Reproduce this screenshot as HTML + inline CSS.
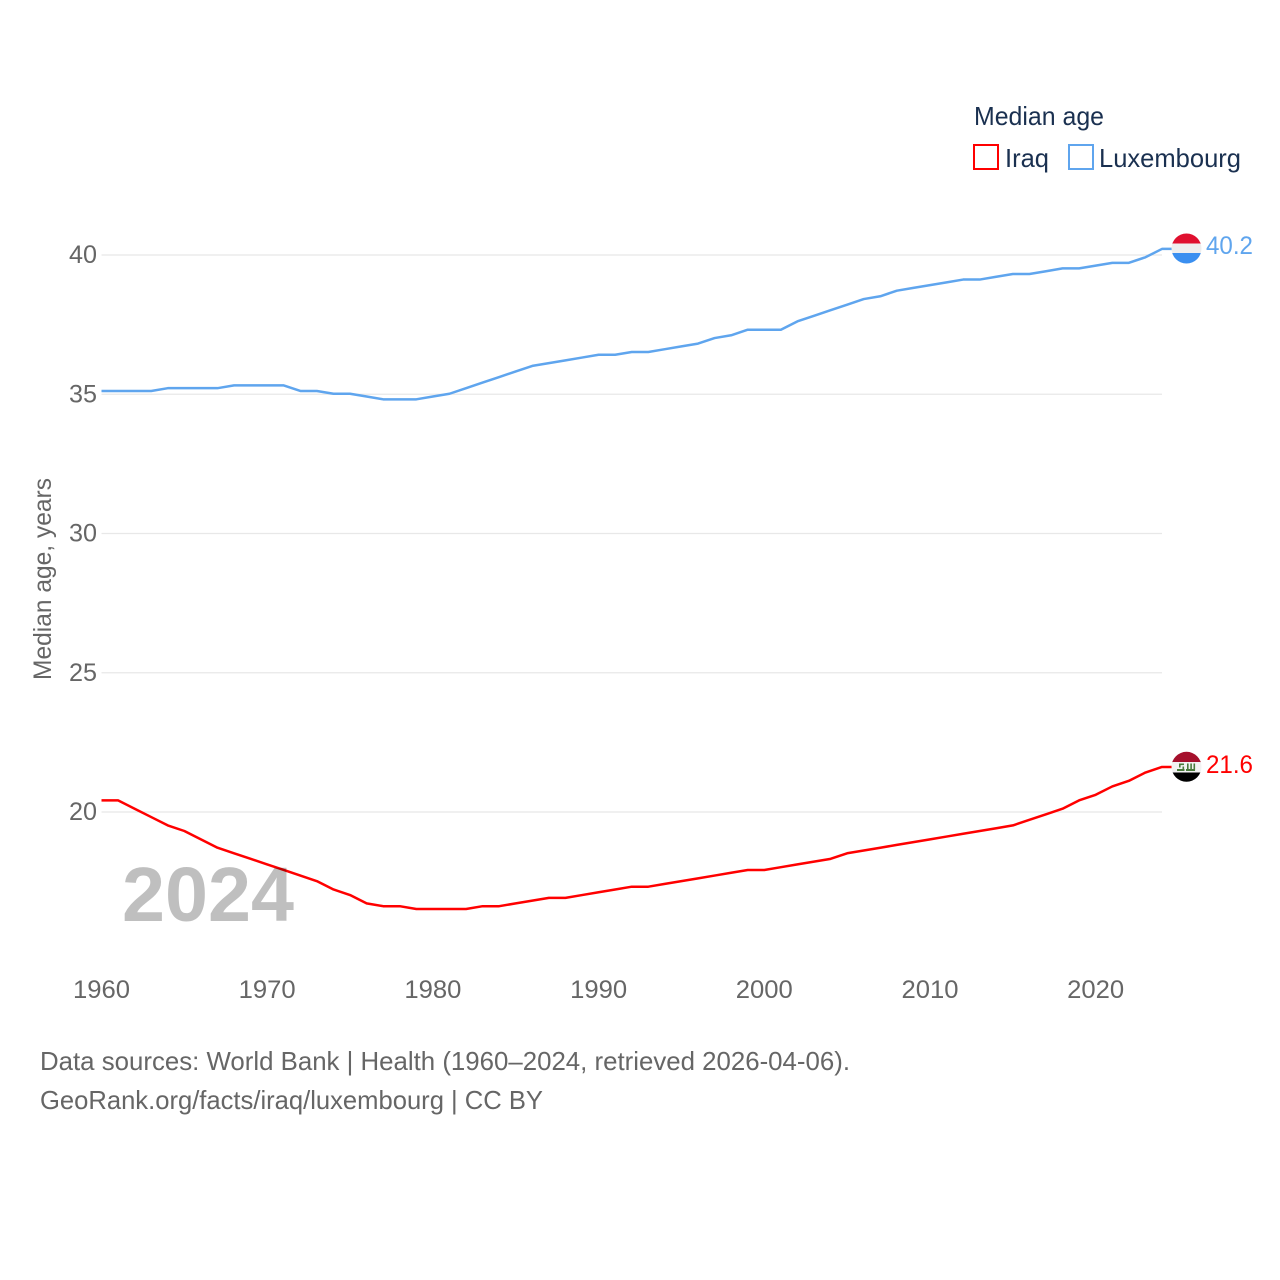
<!DOCTYPE html>
<html lang="en">
<head>
<meta charset="utf-8">
<title>Median age: Iraq and Luxembourg</title>
<style>
html,body{margin:0;padding:0;background:#fff;width:1280px;height:1280px;overflow:hidden}
svg{display:block;font-family:"Liberation Sans",sans-serif}
</style>
</head>
<body>
<svg id="chart" xmlns="http://www.w3.org/2000/svg" width="1280" height="1280" viewBox="0 0 1280 1280">
  <defs>
    <clipPath id="clip-flag-lu"><circle cx="1186.5" cy="248.5" r="15"/></clipPath>
    <clipPath id="clip-flag-iq"><circle cx="1186.5" cy="766.8" r="15"/></clipPath>
  </defs>
  <rect width="1280" height="1280" fill="#fff"/>
  <g id="grid"></g>
  <g id="yticks"></g>
  <g id="xticks"></g>
  <g id="lines"></g>

  <text x="122" y="921" font-size="77" font-weight="bold" fill="#000" fill-opacity="0.25" textLength="172" lengthAdjust="spacingAndGlyphs">2024</text>

  <text transform="translate(51,680) rotate(-90)" font-size="25" fill="#666" textLength="202" lengthAdjust="spacingAndGlyphs">Median age, years</text>

  <g>
    <text x="974" y="125" font-size="26" fill="#1a3050" textLength="130" lengthAdjust="spacingAndGlyphs">Median age</text>
    <g>
      <rect x="974" y="145" width="24" height="24" fill="none" stroke="#ff0000" stroke-width="2"/>
      <text x="1005" y="167" font-size="26" fill="#1a3050" textLength="44" lengthAdjust="spacingAndGlyphs">Iraq</text>
    </g>
    <g>
      <rect x="1069" y="145" width="24" height="24" fill="none" stroke="#5fa5ee" stroke-width="2"/>
      <text x="1099" y="167" font-size="26" fill="#1a3050" textLength="142" lengthAdjust="spacingAndGlyphs">Luxembourg</text>
    </g>
  </g>

  <g clip-path="url(#clip-flag-lu)">
    <rect x="1171" y="233" width="31" height="11" fill="#e0102f"/>
    <rect x="1171" y="243.5" width="31" height="10" fill="#eeeeee"/>
    <rect x="1171" y="253" width="31" height="11" fill="#3a8ff0"/>
  </g>
  <text x="1206" y="254" font-size="25" fill="#5fa5ee" textLength="47" lengthAdjust="spacingAndGlyphs">40.2</text>

  <g clip-path="url(#clip-flag-iq)">
    <rect x="1171" y="751" width="31" height="11.5" fill="#a5102c"/>
    <rect x="1171" y="762" width="31" height="11" fill="#f2f2f2"/>
    <rect x="1171" y="772.5" width="31" height="10.5" fill="#000"/>
    <g fill="#4a7a3c">
      <rect x="1177" y="769" width="7.5" height="2"/>
      <rect x="1179" y="763.5" width="5" height="1.6"/>
      <rect x="1179" y="763.5" width="1.6" height="4"/>
      <rect x="1182.5" y="766.5" width="1.6" height="4"/>
      <rect x="1186" y="769" width="9" height="2"/>
      <rect x="1187" y="763.5" width="1.6" height="7"/>
      <rect x="1190.3" y="763.5" width="1.6" height="7"/>
      <rect x="1193.5" y="763.5" width="1.6" height="7"/>
    </g>
  </g>
  <text x="1206" y="773" font-size="25" fill="#ff0000" textLength="47" lengthAdjust="spacingAndGlyphs">21.6</text>

  <g>
    <text x="40" y="1070" font-size="26" fill="#666" textLength="810" lengthAdjust="spacingAndGlyphs">Data sources: World Bank | Health (1960–2024, retrieved 2026-04-06).</text>
    <text x="40" y="1109" font-size="26" fill="#666" textLength="503" lengthAdjust="spacingAndGlyphs">GeoRank.org/facts/iraq/luxembourg | CC BY</text>
  </g>
</svg>
<script>
var years = [1960,1961,1962,1963,1964,1965,1966,1967,1968,1969,1970,1971,1972,1973,1974,1975,1976,1977,1978,1979,1980,1981,1982,1983,1984,1985,1986,1987,1988,1989,1990,1991,1992,1993,1994,1995,1996,1997,1998,1999,2000,2001,2002,2003,2004,2005,2006,2007,2008,2009,2010,2011,2012,2013,2014,2015,2016,2017,2018,2019,2020,2021,2022,2023,2024];
var iraqValues = [20.4,20.4,20.1,19.8,19.5,19.3,19.0,18.7,18.5,18.3,18.1,17.9,17.7,17.5,17.2,17.0,16.7,16.6,16.6,16.5,16.5,16.5,16.5,16.6,16.6,16.7,16.8,16.9,16.9,17.0,17.1,17.2,17.3,17.3,17.4,17.5,17.6,17.7,17.8,17.9,17.9,18.0,18.1,18.2,18.3,18.5,18.6,18.7,18.8,18.9,19.0,19.1,19.2,19.3,19.4,19.5,19.7,19.9,20.1,20.4,20.6,20.9,21.1,21.4,21.6];
var luxembourgValues = [35.1,35.1,35.1,35.1,35.2,35.2,35.2,35.2,35.3,35.3,35.3,35.3,35.1,35.1,35.0,35.0,34.9,34.8,34.8,34.8,34.9,35.0,35.2,35.4,35.6,35.8,36.0,36.1,36.2,36.3,36.4,36.4,36.5,36.5,36.6,36.7,36.8,37.0,37.1,37.3,37.3,37.3,37.6,37.8,38.0,38.2,38.4,38.5,38.7,38.8,38.9,39.0,39.1,39.1,39.2,39.3,39.3,39.4,39.5,39.5,39.6,39.7,39.7,39.9,40.2];
var yTickValues = [20,25,30,35,40];
var xTickValues = [1960,1970,1980,1990,2000,2010,2020];

var SVG_NS = 'http://www.w3.org/2000/svg';
function xScale(year){ return 101.5 + (year - 1960) * 16.57; }
function yScale(v){ return 812 - (v - 20) * 27.85; }
function make(tag, parent){
  var el = document.createElementNS(SVG_NS, tag);
  document.getElementById(parent).appendChild(el);
  return el;
}

yTickValues.forEach(function(v){
  var y = yScale(v);
  var line = make('line', 'grid');
  
  
  line.setAttribute('x1', 101.5);
  line.setAttribute('x2', 1162);
  line.setAttribute('y1', y);
  line.setAttribute('y2', y);
  line.setAttribute('stroke', '#e8e8e8');
  line.setAttribute('stroke-width', 1.2);

  var label = make('text', 'yticks');
  
  
  label.setAttribute('x', 69);
  label.setAttribute('y', y + 8);
  label.setAttribute('font-size', 25);
  label.setAttribute('fill', '#666');
  label.setAttribute('textLength', 28);
  label.setAttribute('lengthAdjust', 'spacingAndGlyphs');
  label.textContent = String(v);
});

xTickValues.forEach(function(t){
  var label = make('text', 'xticks');
  
  
  label.setAttribute('x', xScale(t) - 28.5);
  label.setAttribute('y', 998);
  label.setAttribute('font-size', 25);
  label.setAttribute('fill', '#666');
  label.setAttribute('textLength', 57);
  label.setAttribute('lengthAdjust', 'spacingAndGlyphs');
  label.textContent = String(t);
});

function pathFor(values){
  var d = values.map(function(v, i){
    return (i ? 'L' : 'M') + xScale(years[i]).toFixed(2) + ' ' + (yScale(v) - 0.5).toFixed(2);
  }).join(' ');
  return d + ' H1172';
}

var iraqLine = make('path', 'lines');


iraqLine.setAttribute('d', pathFor(iraqValues));
iraqLine.setAttribute('fill', 'none');
iraqLine.setAttribute('stroke', '#ff0000');
iraqLine.setAttribute('stroke-width', 2.5);
iraqLine.setAttribute('stroke-linejoin', 'round');

var luxLine = make('path', 'lines');


luxLine.setAttribute('d', pathFor(luxembourgValues));
luxLine.setAttribute('fill', 'none');
luxLine.setAttribute('stroke', '#5fa5ee');
luxLine.setAttribute('stroke-width', 2.5);
luxLine.setAttribute('stroke-linejoin', 'round');
</script>
</body>
</html>
